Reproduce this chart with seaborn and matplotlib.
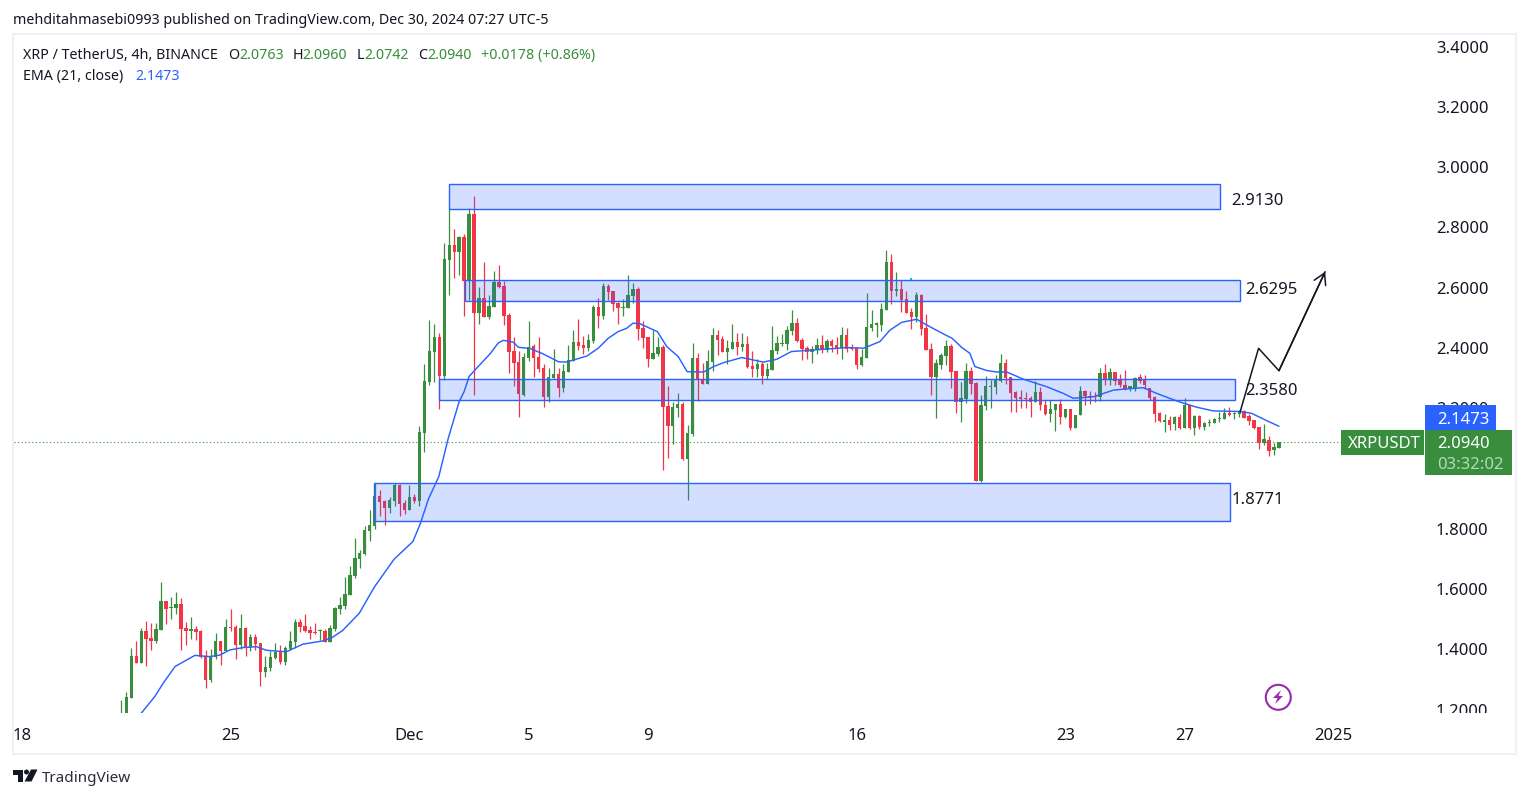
import matplotlib
matplotlib.use("Agg")
import matplotlib.pyplot as plt
import numpy as np
import pandas as pd
import seaborn as sns
from matplotlib.patches import Ellipse, Polygon, Rectangle
from matplotlib.transforms import Bbox, ScaledTranslation

# 4h candles (first two bars sit below the visible range)
opens = [
    1.150, 1.180, 1.246, 1.385, 1.363, 1.468, 1.445, 1.435, 1.472, 1.567,
    1.545, 1.544, 1.557, 1.478, 1.468, 1.475, 1.468, 1.385, 1.305, 1.382,
    1.435, 1.401, 1.481, 1.481, 1.421, 1.478, 1.415, 1.448, 1.428, 1.332,
    1.345, 1.378, 1.398, 1.365, 1.408, 1.431, 1.498, 1.485, 1.471, 1.465,
    1.467, 1.468, 1.431, 1.475, 1.541, 1.551, 1.587, 1.650, 1.707, 1.723,
    1.800, 1.816, 1.916, 1.899, 1.876, 1.899, 1.952, 1.893, 1.869, 1.912,
    1.899, 2.125, 2.294, 2.393, 2.443, 2.314, 2.699, 2.748, 2.725, 2.775,
    2.629, 2.851, 2.523, 2.572, 2.510, 2.543, 2.626, 2.612, 2.516, 2.397,
    2.360, 2.251, 2.374, 2.413, 2.377, 2.340, 2.244, 2.307, 2.320, 2.274,
    2.327, 2.364, 2.427, 2.417, 2.407, 2.430, 2.543, 2.513, 2.612, 2.596,
    2.556, 2.539, 2.539, 2.579, 2.602, 2.473, 2.443, 2.370, 2.387, 2.410,
    2.214, 2.148, 2.208, 2.221, 2.039, 2.121, 2.374, 2.304, 2.287, 2.360,
    2.450, 2.436, 2.393, 2.403, 2.427, 2.410, 2.420, 2.347, 2.337, 2.354,
    2.314, 2.334, 2.397, 2.420, 2.420, 2.463, 2.490, 2.433, 2.407, 2.393,
    2.400, 2.417, 2.400, 2.430, 2.417, 2.407, 2.450, 2.410, 2.407, 2.350,
    2.373, 2.473, 2.484, 2.483, 2.533, 2.692, 2.596, 2.602, 2.569, 2.526,
    2.509, 2.582, 2.473, 2.403, 2.310, 2.350, 2.380, 2.413, 2.330, 2.228,
    2.237, 2.330, 2.290, 1.966, 2.214, 2.277, 2.277, 2.297, 2.357, 2.311,
    2.261, 2.244, 2.241, 2.241, 2.228, 2.261, 2.218, 2.188, 2.201, 2.221,
    2.178, 2.204, 2.141, 2.184, 2.264, 2.247, 2.247, 2.244, 2.324, 2.301,
    2.327, 2.304, 2.284, 2.271, 2.271, 2.311, 2.301, 2.274, 2.244, 2.191,
    2.161, 2.168, 2.155, 2.178, 2.141, 2.218, 2.141, 2.181, 2.145, 2.158,
    2.158, 2.171, 2.171, 2.191, 2.188, 2.188, 2.198, 2.181, 2.168, 2.145,
    2.092, 2.102, 2.068, 2.0763,
]
highs = [
    1.239, 1.266, 1.412, 1.435, 1.477, 1.501, 1.493, 1.493, 1.631, 1.567,
    1.581, 1.597, 1.577, 1.498, 1.514, 1.485, 1.471, 1.405, 1.408, 1.461,
    1.435, 1.508, 1.541, 1.488, 1.524, 1.481, 1.458, 1.458, 1.428, 1.385,
    1.401, 1.428, 1.421, 1.418, 1.468, 1.508, 1.508, 1.524, 1.485, 1.494,
    1.475, 1.475, 1.488, 1.548, 1.581, 1.647, 1.683, 1.776, 1.737, 1.816,
    1.869, 1.958, 1.936, 1.902, 1.912, 1.959, 1.955, 1.902, 1.952, 1.922,
    2.148, 2.354, 2.500, 2.486, 2.456, 2.755, 2.871, 2.801, 2.778, 2.785,
    2.871, 2.911, 2.609, 2.692, 2.583, 2.662, 2.682, 2.629, 2.523, 2.443,
    2.397, 2.390, 2.496, 2.420, 2.443, 2.354, 2.340, 2.403, 2.340, 2.354,
    2.417, 2.466, 2.503, 2.446, 2.453, 2.549, 2.572, 2.622, 2.619, 2.596,
    2.559, 2.569, 2.649, 2.622, 2.609, 2.496, 2.443, 2.466, 2.443, 2.417,
    2.281, 2.228, 2.257, 2.228, 2.151, 2.423, 2.390, 2.357, 2.400, 2.473,
    2.466, 2.446, 2.433, 2.486, 2.456, 2.456, 2.446, 2.397, 2.370, 2.360,
    2.357, 2.480, 2.446, 2.453, 2.480, 2.533, 2.506, 2.440, 2.413, 2.413,
    2.440, 2.450, 2.436, 2.436, 2.443, 2.476, 2.473, 2.420, 2.410, 2.403,
    2.589, 2.533, 2.493, 2.556, 2.732, 2.718, 2.659, 2.632, 2.596, 2.539,
    2.592, 2.586, 2.519, 2.423, 2.370, 2.390, 2.433, 2.420, 2.330, 2.294,
    2.357, 2.344, 2.294, 2.251, 2.314, 2.300, 2.317, 2.387, 2.370, 2.311,
    2.264, 2.267, 2.261, 2.247, 2.297, 2.277, 2.234, 2.234, 2.221, 2.238,
    2.204, 2.204, 2.184, 2.281, 2.267, 2.264, 2.261, 2.340, 2.354, 2.340,
    2.327, 2.320, 2.334, 2.281, 2.311, 2.320, 2.317, 2.274, 2.247, 2.194,
    2.188, 2.181, 2.181, 2.188, 2.241, 2.218, 2.184, 2.184, 2.161, 2.171,
    2.175, 2.194, 2.208, 2.211, 2.194, 2.201, 2.201, 2.188, 2.168, 2.145,
    2.155, 2.115, 2.092, 2.0960,
]
lows = [
    1.130, 1.170, 1.246, 1.363, 1.363, 1.353, 1.405, 1.428, 1.472, 1.491,
    1.508, 1.524, 1.405, 1.421, 1.441, 1.438, 1.378, 1.279, 1.299, 1.375,
    1.355, 1.401, 1.468, 1.375, 1.408, 1.385, 1.401, 1.405, 1.285, 1.315,
    1.335, 1.375, 1.358, 1.355, 1.405, 1.412, 1.465, 1.465, 1.441, 1.458,
    1.438, 1.431, 1.431, 1.468, 1.524, 1.541, 1.587, 1.644, 1.677, 1.720,
    1.766, 1.806, 1.849, 1.820, 1.859, 1.883, 1.849, 1.856, 1.869, 1.893,
    1.883, 2.062, 2.284, 2.294, 2.204, 2.301, 2.583, 2.639, 2.649, 2.513,
    2.566, 2.251, 2.486, 2.510, 2.503, 2.543, 2.606, 2.483, 2.324, 2.281,
    2.178, 2.248, 2.364, 2.311, 2.327, 2.211, 2.228, 2.307, 2.244, 2.261,
    2.327, 2.364, 2.400, 2.387, 2.397, 2.423, 2.473, 2.503, 2.566, 2.529,
    2.486, 2.513, 2.539, 2.556, 2.433, 2.407, 2.344, 2.370, 2.380, 2.002,
    2.042, 2.088, 2.178, 2.035, 1.903, 2.115, 2.231, 2.287, 2.287, 2.330,
    2.383, 2.393, 2.354, 2.403, 2.383, 2.397, 2.340, 2.310, 2.310, 2.287,
    2.304, 2.334, 2.387, 2.413, 2.400, 2.450, 2.427, 2.367, 2.370, 2.357,
    2.387, 2.390, 2.393, 2.393, 2.387, 2.370, 2.393, 2.400, 2.337, 2.347,
    2.373, 2.463, 2.443, 2.463, 2.533, 2.553, 2.579, 2.526, 2.523, 2.470,
    2.493, 2.450, 2.400, 2.251, 2.174, 2.337, 2.350, 2.274, 2.191, 2.161,
    2.224, 2.254, 1.966, 1.962, 2.201, 2.208, 2.254, 2.294, 2.287, 2.194,
    2.194, 2.208, 2.208, 2.178, 2.228, 2.201, 2.184, 2.161, 2.131, 2.155,
    2.175, 2.135, 2.141, 2.184, 2.218, 2.221, 2.228, 2.231, 2.284, 2.284,
    2.284, 2.277, 2.267, 2.264, 2.264, 2.290, 2.271, 2.234, 2.161, 2.161,
    2.128, 2.135, 2.135, 2.138, 2.141, 2.138, 2.118, 2.138, 2.135, 2.148,
    2.158, 2.161, 2.171, 2.181, 2.171, 2.178, 2.175, 2.151, 2.138, 2.072,
    2.085, 2.048, 2.052, 2.0742,
]
closes = [
    1.190, 1.248, 1.385, 1.363, 1.468, 1.442, 1.435, 1.475, 1.567, 1.541,
    1.548, 1.557, 1.475, 1.468, 1.475, 1.465, 1.382, 1.305, 1.382, 1.435,
    1.401, 1.481, 1.478, 1.421, 1.478, 1.412, 1.448, 1.425, 1.332, 1.349,
    1.382, 1.398, 1.365, 1.412, 1.435, 1.498, 1.481, 1.468, 1.461, 1.461,
    1.469, 1.431, 1.478, 1.544, 1.554, 1.591, 1.654, 1.710, 1.727, 1.803,
    1.820, 1.916, 1.896, 1.876, 1.902, 1.952, 1.889, 1.869, 1.912, 1.899,
    2.128, 2.297, 2.397, 2.443, 2.314, 2.702, 2.748, 2.725, 2.775, 2.629,
    2.851, 2.523, 2.572, 2.510, 2.546, 2.626, 2.609, 2.513, 2.393, 2.357,
    2.254, 2.377, 2.410, 2.374, 2.337, 2.244, 2.311, 2.320, 2.274, 2.330,
    2.367, 2.427, 2.413, 2.407, 2.433, 2.543, 2.513, 2.612, 2.592, 2.553,
    2.539, 2.543, 2.583, 2.602, 2.470, 2.440, 2.370, 2.390, 2.410, 2.211,
    2.148, 2.211, 2.221, 2.039, 2.125, 2.374, 2.301, 2.287, 2.364, 2.450,
    2.433, 2.393, 2.407, 2.427, 2.410, 2.420, 2.344, 2.337, 2.354, 2.314,
    2.337, 2.400, 2.423, 2.423, 2.466, 2.490, 2.430, 2.403, 2.393, 2.403,
    2.417, 2.400, 2.430, 2.413, 2.407, 2.450, 2.403, 2.403, 2.350, 2.377,
    2.476, 2.486, 2.486, 2.536, 2.692, 2.596, 2.602, 2.566, 2.523, 2.509,
    2.582, 2.470, 2.400, 2.310, 2.357, 2.383, 2.413, 2.327, 2.228, 2.241,
    2.330, 2.287, 1.966, 2.218, 2.281, 2.281, 2.300, 2.357, 2.307, 2.257,
    2.241, 2.238, 2.238, 2.228, 2.261, 2.218, 2.188, 2.204, 2.221, 2.178,
    2.204, 2.141, 2.184, 2.264, 2.247, 2.244, 2.244, 2.324, 2.304, 2.327,
    2.297, 2.284, 2.271, 2.281, 2.307, 2.297, 2.284, 2.241, 2.188, 2.165,
    2.168, 2.151, 2.178, 2.141, 2.218, 2.141, 2.181, 2.145, 2.158, 2.161,
    2.171, 2.175, 2.191, 2.184, 2.191, 2.198, 2.175, 2.165, 2.141, 2.092,
    2.105, 2.065, 2.078, 2.0940,
]

# EMA(21) read at the points where the curve bends
ema_bars = [
    4, 6.8, 8.4, 10.8, 14.8, 17.8, 19.8, 21.8, 24.5, 27.2, 29.2, 33.2, 36.5,
    40.5, 42.2, 44.5, 47.9, 50.9, 54.9, 58.7, 60.2, 61.8, 63.9, 65.8, 68, 69,
    70, 71.2, 74.2, 75.9, 76.9, 78.9, 79.9, 82.3, 84.9, 88, 89.6, 93.7, 96,
    98, 100, 101.7, 103, 104.4, 106.4, 107.9, 109.8, 112.1, 113.9, 117.2,
    119.2, 121.2, 124.9, 129.2, 131.9, 134.9, 139.3, 146, 149.4, 152.7, 154.7,
    157.1, 160.1, 162.1, 165.5, 167.2, 169.2, 170.8, 171.8, 174.2, 176.2,
    178.2, 181.6, 186.3, 189.6, 191.6, 195.7, 197.7, 199.7, 202.4, 205.7,
    208.4, 212.4, 216.5, 219.8, 225.2, 227.5, 230.5, 233,
]
ema_values = [
    1.195, 1.252, 1.294, 1.350, 1.387, 1.383, 1.388, 1.405, 1.413, 1.416,
    1.404, 1.399, 1.424, 1.435, 1.444, 1.469, 1.527, 1.613, 1.706, 1.765,
    1.825, 1.905, 1.980, 2.107, 2.229, 2.262, 2.312, 2.334, 2.387, 2.424,
    2.432, 2.426, 2.409, 2.405, 2.387, 2.361, 2.360, 2.380, 2.406, 2.439,
    2.461, 2.472, 2.489, 2.487, 2.472, 2.461, 2.411, 2.378, 2.328, 2.327,
    2.345, 2.358, 2.375, 2.360, 2.369, 2.395, 2.400, 2.408, 2.406, 2.428,
    2.466, 2.492, 2.502, 2.483, 2.453, 2.439, 2.408, 2.389, 2.345, 2.332,
    2.327, 2.327, 2.303, 2.278, 2.256, 2.240, 2.245, 2.256, 2.267, 2.271,
    2.275, 2.256, 2.231, 2.210, 2.198, 2.196, 2.190, 2.166, 2.147,
]

# support / resistance zones
zone_names = ["2.9130", "2.6295", "2.3580", "1.8771"]
zone_left = [66.0, 69.2, 64.0, 50.9]
zone_right = [221.2, 225.1, 224.1, 223.1]
zone_top = [2.9496, 2.6312, 2.3028, 1.9579]
zone_bottom = [2.8667, 2.5615, 2.2332, 1.8338]
zone_label_x = [223.5, 226.3, 226.3, 223.5]
zone_label_y = [2.8942, 2.5990, 2.2641, 1.9025]

# hand drawn projection
path_bars = [225.2, 228.9, 233.0, 242.3]
path_prices = [2.1954, 2.4056, 2.3313, 2.6597]

price_ticks = [3.4, 3.2, 3.0, 2.8, 2.6, 2.4, 2.2, 2.0, 1.8, 1.6, 1.4, 1.2]
date_ticks = [-20, 22, 58, 82, 106, 148, 190, 214, 244]
date_labels = ["18", "25", "Dec", "5", "9", "16", "23", "27", "2025"]

last_close = 2.0940

GREEN = "#388e3c"
RED = "#f23645"
BLUE = "#2962ff"
INK = "#131722"
BORDER = "#eff0f6"
W, H = 1529, 798

sns.set_theme(style="white")
plt.rcParams["font.family"] = ["Noto Sans", "DejaVu Sans"]

df = pd.DataFrame({"open": opens, "high": highs, "low": lows, "close": closes})
df["bar"] = np.arange(len(df))
df["color"] = np.where(df["close"] >= df["open"], GREEN, RED)

ema = pd.DataFrame({"bar": ema_bars, "ema": ema_values})


def fx(x):
    return x / W


def fy(y):
    return 1 - y / H


fig = plt.figure(figsize=(W / 100, H / 100), dpi=100, facecolor="white")
ax = fig.add_axes([fx(14), fy(713), (1426 - 14) / W, (713 - 35) / H])
ax.set_facecolor("white")

# candles
ax.vlines(df["bar"], df["low"], df["high"], colors=df["color"], lw=0.9, zorder=2)
ax.bar(
    df["bar"],
    (df["close"] - df["open"]).abs().clip(lower=0.004),
    bottom=df[["open", "close"]].min(axis=1),
    width=0.68,
    color=df["color"],
    linewidth=0,
    zorder=3,
)

sns.lineplot(data=ema, x="bar", y="ema", ax=ax, color=BLUE, lw=1.05, zorder=4, errorbar=None)

# zones sit over the candles, fill is see-through
for left, right, top, bottom in zip(zone_left, zone_right, zone_top, zone_bottom):
    ax.add_patch(Rectangle((left, bottom), right - left, top - bottom,
                           facecolor=BLUE, alpha=0.2, linewidth=0, zorder=5))
    ax.add_patch(Rectangle((left, bottom), right - left, top - bottom,
                           facecolor="none", edgecolor=BLUE, linewidth=1.0, zorder=5))
for name, x, y in zip(zone_names, zone_label_x, zone_label_y):
    ax.text(x, y, name, color=INK, fontsize=12, va="center", ha="left", zorder=7)

ax.plot(path_bars, path_prices, color=INK, lw=1.1, zorder=6)
ax.annotate("", xy=(path_bars[-1], path_prices[-1]), xytext=(path_bars[-2], path_prices[-2]),
            arrowprops=dict(arrowstyle="->,head_length=0.6,head_width=0.35", color=INK, lw=1.1,
                            shrinkA=0, shrinkB=0, mutation_scale=13), zorder=6)

ax.axhline(last_close, color=GREEN, lw=0.8, ls=(0, (1, 2.2)), zorder=1)
ax.scatter([158.9], [2.637], s=3, marker="s", color="#00bcd4", linewidth=0, zorder=6)

ax.set_xlim(-21.6, 262.6)
ax.set_ylim(1.1960, 3.4448)
ax.set_xlabel("")
ax.set_ylabel("")
sns.despine(ax=ax, left=True, bottom=True, right=True, top=True)
ax.yaxis.tick_right()
ax.set_yticks(price_ticks, [f"{v:.4f}" for v in price_ticks])
ax.set_xticks(date_ticks, date_labels)
ax.tick_params(axis="y", length=0, pad=7.2, labelsize=12, labelcolor=INK)
ax.tick_params(axis="x", length=0, pad=10.8, labelsize=12, labelcolor=INK)
ax.get_xticklabels()[-1].set_fontweight("bold")

# price scale cuts off at the pane bottom, labels ride 2px above their level
clip = Bbox([[1426, H - 713], [1515, H - 35]])
nudge = ScaledTranslation(0, 2 / 100, fig.dpi_scale_trans)
for label in ax.get_yticklabels():
    label.set_transform(label.get_transform() + nudge)
    label.set_clip_box(clip)
    label.set_clip_on(True)

# outer frame
fig.add_artist(Rectangle((fx(13), fy(754)), 1503 / W, 720 / H, fill=False,
                         edgecolor=BORDER, linewidth=1.5, zorder=1))

# price tags over the scale
fig.add_artist(Rectangle((fx(1425), fy(430)), 71 / W, 25 / H, facecolor=BLUE, linewidth=0, zorder=5))
fig.add_artist(Rectangle((fx(1425), fy(475)), 87 / W, 45 / H, facecolor=GREEN, linewidth=0, zorder=6))
fig.add_artist(Rectangle((fx(1341), fy(455)), 83 / W, 25 / H, facecolor=GREEN, linewidth=0, zorder=6))
fig.text(fx(1437), fy(420), "2.1473", color="white", fontsize=12, va="center", zorder=7)
fig.text(fx(1437), fy(444), "2.0940", color="white", fontsize=12, va="center", zorder=7)
fig.text(fx(1437), fy(465), "03:32:02", color="#b9d6bb", fontsize=12, va="center", zorder=7)
fig.text(fx(1348), fy(444), "XRPUSDT", color="white", fontsize=12, va="center", zorder=7)

# header text
fig.text(fx(13), fy(21), "mehditahmasebi0993 published on TradingView.com, Dec 30, 2024 07:27 UTC-5",
         color=INK, fontsize=10.25, va="center")
header_y = 55.5
header_bits = [
    (23, "XRP / TetherUS, 4h, BINANCE", INK),
    (228.6, "O", INK), (239, "2.0763", GREEN),
    (292.6, "H", INK), (302.5, "2.0960", GREEN),
    (356.7, "L", INK), (364, "2.0742", GREEN),
    (418, "C", INK), (427, "2.0940", GREEN),
    (481, "+0.0178 (+0.86%)", GREEN),
]
for x, txt, col in header_bits:
    fig.text(fx(x), fy(header_y), txt, color=col, fontsize=10.25, va="center")
fig.text(fx(23), fy(76.5), "EMA (21, close)", color=INK, fontsize=10.25, va="center")
fig.text(fx(135), fy(76.5), "2.1473", color=BLUE, fontsize=10.25, va="center")

# TradingView mark
fig.add_artist(Polygon([(fx(13), fy(769.5)), (fx(23), fy(769.5)), (fx(23), fy(781.5)),
                        (fx(18), fy(781.5)), (fx(18), fy(775)), (fx(13), fy(775))],
                       facecolor=INK, linewidth=0))
fig.add_artist(Ellipse((fx(26.5), fy(772)), 5 / W, 5 / H, facecolor=INK, linewidth=0))
fig.add_artist(Polygon([(fx(31), fy(769.5)), (fx(37.5), fy(769.5)), (fx(31.5), fy(781.5)),
                        (fx(24.5), fy(781.5))], facecolor=INK, linewidth=0))
fig.text(fx(42), fy(778), "TradingView", color="#2a2e39", fontsize=11, va="center")

# lightning event marker
PURPLE = "#9c27b0"
fig.add_artist(Ellipse((fx(1278.3), fy(697.3)), 25 / W, 25 / H, fill=False, edgecolor=PURPLE, linewidth=1.5))
fig.add_artist(Polygon([(fx(1281), fy(690)), (fx(1273), fy(698)), (fx(1277.5), fy(698)),
                        (fx(1275), fy(704)), (fx(1283), fy(696)), (fx(1278.5), fy(696))],
                       facecolor=PURPLE, linewidth=0))

fig.savefig("out.png", dpi=100, facecolor="white")
